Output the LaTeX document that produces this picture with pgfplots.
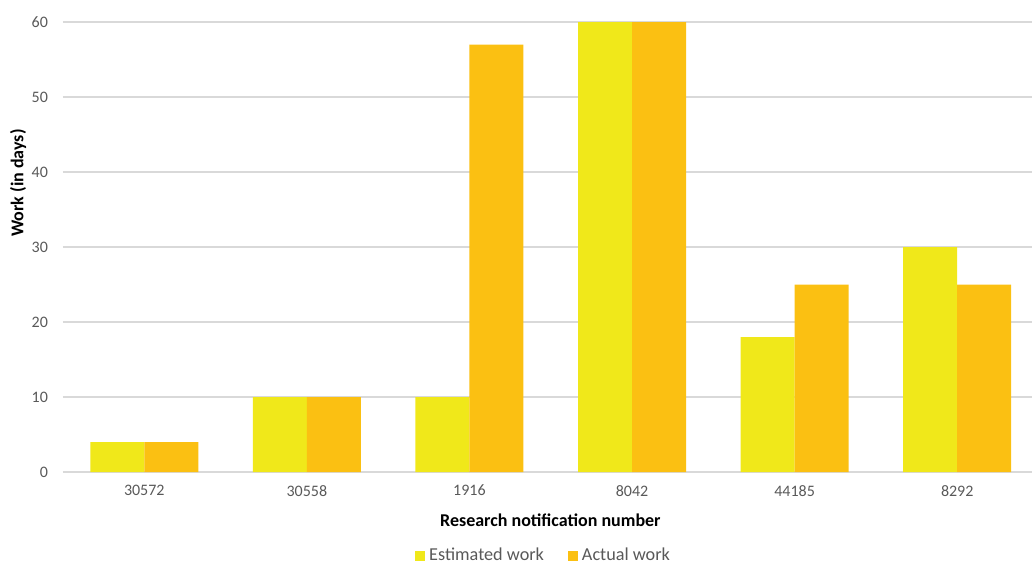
\documentclass[border=0pt]{standalone}
\usepackage{fontspec}
\setmainfont{Carlito}
\usepackage{pgfplots}
\pgfplotsset{compat=1.18}
\definecolor{estc}{HTML}{F0E81A}
\definecolor{actc}{HTML}{FBC012}
\definecolor{gridc}{HTML}{D9D9D9}
\definecolor{tickc}{HTML}{595959}

\begin{document}
\begin{tikzpicture}
\begin{axis}[
  scale only axis,
  width=484.5pt, height=225pt,
  xmin=-0.5, xmax=5.46, ymin=0, ymax=60,
  ybar=0pt, bar width=27pt,
  xtick={0,1,2,3,4,5},
  xticklabels={30572,30558,1916,8042,44185,8292},
  ytick={0,10,...,60},
  ymajorgrids, grid style={gridc, line width=0.6pt},
  axis line style={draw=none},
  major tick length=0pt,
  /pgf/number format/assume math mode=true,
  tick label style={font=\fontsize{8}{9.6}\selectfont, text=tickc},
  yticklabel style={xshift=-4pt},
  xticklabel style={yshift=-3pt},
  xlabel={Research notification number},
  ylabel={Work (in days)},
  label style={font=\fontsize{9}{10.8}\selectfont\bfseries},
  xlabel style={at={(rel axis cs:0.503,0)}, anchor=center, yshift=-24pt},
  ylabel style={at={(rel axis cs:-0.0464,0.642)}, anchor=center},
  legend style={at={(rel axis cs:0.497,-0.187)}, anchor=center, draw=none,
    font=\fontsize{9.1}{10.9}\selectfont, text=tickc,
    inner sep=1pt,
    /tikz/every even column/.append style={column sep=10pt}},
  legend columns=2,
  legend image code/.code={\fill[#1] (0pt,-2.5pt) rectangle (5pt,2.5pt);},
]
\addplot[fill=estc, draw=none] coordinates {(0,4) (1,10) (2,10) (3,60) (4,18) (5,30)};
\addplot[fill=actc, draw=none] coordinates {(0,4) (1,10) (2,57) (3,60) (4,25) (5,25)};
\legend{Estimated work, Actual work}
\coordinate (bl) at (rel axis cs:-0.065,-0.2089);
\coordinate (tr) at (rel axis cs:1,1.0489);
\end{axis}
\pgfresetboundingbox
\path[use as bounding box] (bl) rectangle (tr);
\end{tikzpicture}
\end{document}
